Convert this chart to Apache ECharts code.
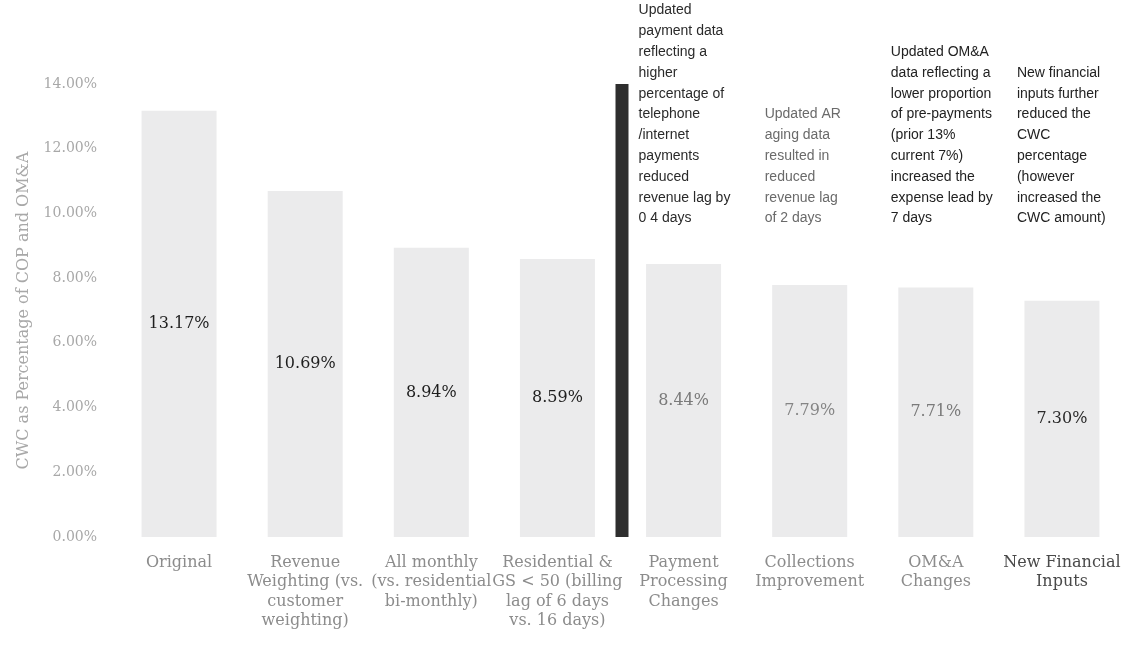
<!DOCTYPE html>
<html>
<head>
<meta charset="utf-8">
<title>CWC as Percentage of COP and OM&amp;A</title>
<script src="https://cdn.jsdelivr.net/npm/echarts@6/dist/echarts.min.js"></script>
<style>
  html, body { margin: 0; padding: 0; background: #ffffff; }
  #chart { width: 1129px; height: 646px; }
</style>
</head>
<body>
<div id="chart"></div>
<script>
// Step categories (x axis)
const categories = [
  'Original',
  'Revenue\nWeighting (vs.\ncustomer\nweighting)',
  'All monthly\n(vs. residential\nbi-monthly)',
  'Residential &\nGS < 50 (billing\nlag of 6 days\nvs. 16 days)',
  'Payment\nProcessing\nChanges',
  'Collections\nImprovement',
  'OM&A\nChanges',
  'New Financial\nInputs'
];

// CWC as a percentage of COP and OM&A, per step
const cwcPercent = [13.17, 10.69, 8.94, 8.59, 8.44, 7.79, 7.71, 7.30];

// Value axis range
const yMin = 0;
const yMax = 14;
const yStep = 2;

// Notes explaining the later steps (keyed by category index)
const notes = [
  null, null, null, null,
  'Updated\npayment data\nreflecting a\nhigher\npercentage of\ntelephone\n/internet\npayments\nreduced\nrevenue lag by\n0 4 days',
  'Updated AR\naging data\nresulted in\nreduced\nrevenue lag\nof 2 days',
  'Updated OM&A\ndata reflecting a\nlower proportion\nof pre-payments\n(prior 13%\ncurrent 7%)\nincreased the\nexpense lead by\n7 days',
  'New financial\ninputs further\nreduced the\nCWC\npercentage\n(however\nincreased the\nCWC amount)'
];

// Index after which the divider between original and updated steps is drawn
const dividerAfter = 3;

// Styling helpers (kept apart from the data)
const valueLabelColors = ['#1e1e1e', '#1e1e1e', '#1e1e1e', '#1e1e1e', '#7a7a7a', '#858585', '#7a7a7a', '#2a2a2a'];
const noteColors = ['#222', '#222', '#222', '#222', '#2a2a2a', '#6a6a6a', '#222', '#222'];
const serif = '"DejaVu Serif", "Liberation Serif", serif';
const sans = '"Liberation Sans", Arial, sans-serif';

const chart = echarts.init(document.getElementById('chart'), null, { renderer: 'canvas' });

const option = {
  backgroundColor: '#ffffff',
  animation: false,
  grid: { left: 116, right: 4, top: 84, bottom: 109, containLabel: false },
  xAxis: {
    type: 'category',
    data: categories,
    axisLine: { show: false },
    axisTick: { show: false },
    axisLabel: {
      interval: 0,
      margin: 16,
      fontFamily: serif,
      fontSize: 16,
      lineHeight: 19.5,
      color: function (value, index) {
        return index === categories.length - 1 ? '#4a4a4a' : '#8c8c8c';
      }
    }
  },
  yAxis: {
    type: 'value',
    min: yMin,
    max: yMax,
    interval: yStep,
    name: 'CWC as Percentage of COP and OM&A',
    nameLocation: 'middle',
    nameGap: 84,
    nameTextStyle: { fontFamily: serif, fontSize: 16, color: '#a8a8a8' },
    axisLine: { show: false },
    axisTick: { show: false },
    splitLine: { show: false },
    axisLabel: {
      margin: 19,
      fontFamily: serif,
      fontSize: 14,
      color: '#a8a8a8',
      formatter: function (v) { return v.toFixed(2) + '%'; }
    }
  },
  series: [{
    type: 'bar',
    barWidth: 75,
    data: cwcPercent.map(function (v, i) {
      return {
        value: v,
        label: { color: valueLabelColors[i] }
      };
    }),
    itemStyle: { color: '#ebebec' },
    label: {
      show: true,
      position: 'inside',
      fontFamily: serif,
      fontSize: 16,
      formatter: function (p) { return p.value.toFixed(2) + '%'; }
    }
  }]
};

chart.setOption(option);

// Divider bar and explanatory notes, placed from the axis scales
function drawExtras() {
  const band = chart.convertToPixel({ xAxisIndex: 0 }, categories[1]) - chart.convertToPixel({ xAxisIndex: 0 }, categories[0]);
  const dividerX = chart.convertToPixel({ xAxisIndex: 0 }, categories[dividerAfter]) + band / 2;
  const yTop = chart.convertToPixel({ yAxisIndex: 0 }, yMax);
  const yBottom = chart.convertToPixel({ yAxisIndex: 0 }, yMin);
  const elements = [{
    type: 'rect',
    shape: { x: dividerX - 5, y: yTop, width: 13, height: yBottom - yTop },
    style: { fill: '#2e2e2e' },
    z: 10
  }];
  notes.forEach(function (txt, i) {
    if (!txt) return;
    const cx = chart.convertToPixel({ xAxisIndex: 0 }, categories[i]);
    elements.push({
      type: 'text',
      x: cx - 45,
      y: 229,
      style: {
        text: txt,
        fill: noteColors[i],
        font: '14px ' + sans,
        lineHeight: 20.8,
        align: 'left',
        verticalAlign: 'bottom'
      },
      z: 10
    });
  });
  chart.setOption({ graphic: { elements: elements } });
}
drawExtras();
</script>
</body>
</html>
